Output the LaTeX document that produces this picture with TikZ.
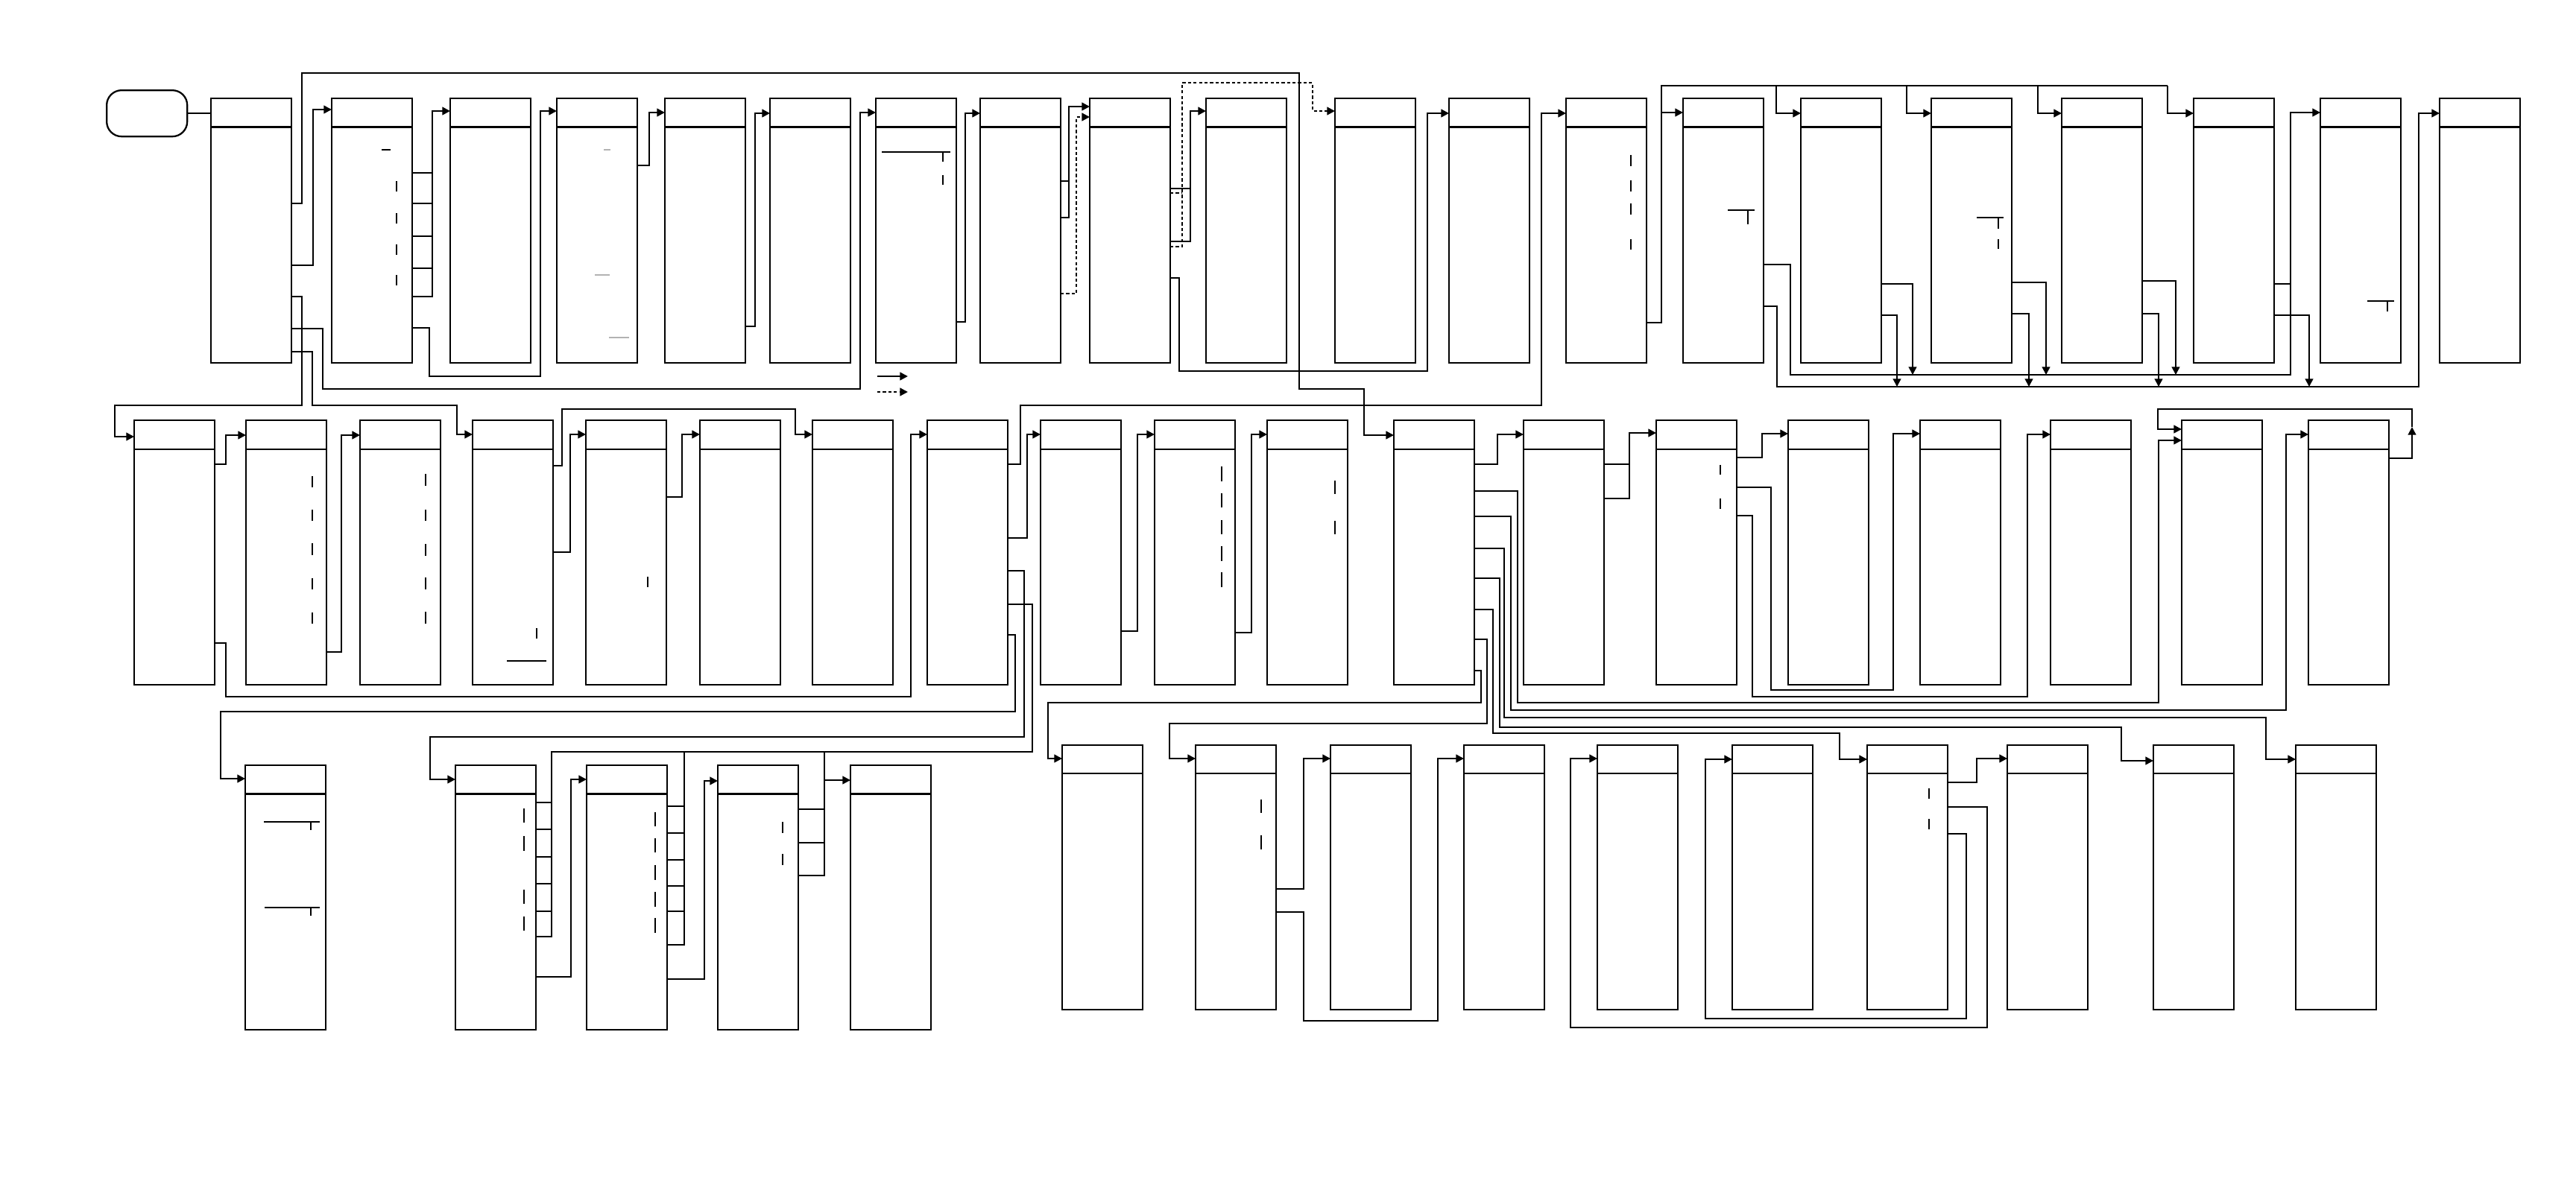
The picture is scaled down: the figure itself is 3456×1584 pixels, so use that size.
\documentclass[tikz,border=0pt]{standalone}
\usetikzlibrary{arrows.meta}
\begin{document}
\begin{tikzpicture}
  [x=0.01cm,y=-0.01cm,line width=0.65pt,
   box/.style={draw,rectangle,anchor=north west,inner sep=0pt,outer sep=0pt,minimum width=1.08cm,minimum height=3.55cm},
   flow/.style={-{Triangle[length=3pt,width=3pt]}},
   dotline/.style={dash pattern=on 1.2pt off 0.9pt},
   dots/.style={flow,dotline},
   tick/.style={line width=0.45pt}]
  \useasboundingbox (0,0) rectangle (3456,1584);

  \node[draw,rounded corners=0.2cm,anchor=north west,minimum width=1.08cm,minimum height=0.62cm] (s0) at (142,120) {};
  \foreach \id/\x in {a1/283,a2/445,a3/604,a4/747,a5/892,a6/1033,a7/1175,a8/1315,a9/1462,a10/1618,
                      a11/1791,a12/1944,a13/2101,a14/2258,a15/2416,a16/2591,a17/2766,a18/2943,a19/3113,a20/3273} {
    \node[box] (\id) at (\x,132) {};
    \draw ([yshift=-.385cm]\id.north west) -- ([yshift=-.385cm]\id.north east);
  }
  \foreach \id/\x in {b1/180,b2/330,b3/483,b4/634,b5/786,b6/939,b7/1090,b8/1244,b9/1396,b10/1549,
                      b11/1700,b12/1870,b13/2044,b14/2222,b15/2399,b16/2576,b17/2751,b18/2927,b19/3097} {
    \node[box] (\id) at (\x,564) {};
    \draw ([yshift=-.39cm]\id.north west) -- ([yshift=-.39cm]\id.north east);
  }
  \foreach \id/\x in {c1/329,c2/611,c3/787,c4/963,c5/1141} {
    \node[box] (\id) at (\x,1027) {};
    \draw ([yshift=-.385cm]\id.north west) -- ([yshift=-.385cm]\id.north east);
  }
  \foreach \id/\x in {d1/1425,d2/1604,d3/1785,d4/1964,d5/2143,d6/2324,d7/2505,d8/2693,d9/2889,d10/3080} {
    \node[box] (\id) at (\x,1000) {};
    \draw ([yshift=-.38cm]\id.north west) -- ([yshift=-.38cm]\id.north east);
  }

  % first row
  \draw (s0.east) -- (a1.west|-s0.east);
  \draw[flow] (a1.east|-0,273) -| (405,98) -| (1743,522) -| (1830,584) -- (b12.west|-0,584);
  \draw[flow] (a1.east|-0,356) -| (420,147) -- (a2.west|-0,147);
  \draw[flow] (a1.east|-0,398) -| (405,544) -| (154,586) -- (b1.west|-0,586);
  \draw[flow] (a1.east|-0,441) -| (433,522) -| (1154,151) -- (a7.west|-0,151);
  \draw[flow] (a1.east|-0,472) -| (419,544) -| (613,583) -- (b4.west|-0,583);
  \foreach \y in {232,273,317,360}
    \draw (a2.east|-0,\y) -- (580,\y);
  \draw[flow] (a2.east|-0,398) -| (580,149) -- (a3.west|-0,149);
  \draw[flow] (a2.east|-0,440) -| (576,505) -| (725,149) -- (a4.west|-0,149);
  \draw[flow] (a4.east|-0,222) -| (871,151) -- (a5.west|-0,151);
  \draw[flow] (a5.east|-0,438) -| (1013,152) -- (a6.west|-0,152);
  \draw[flow] (a7.east|-0,432) -| (1295,152) -- (a8.west|-0,152);
  \draw (a8.east|-0,243) -- (1434,243);
  \draw[flow] (a8.east|-0,292) -| (1434,143) -- (a9.west|-0,143);
  \draw[dots] (a8.east|-0,394) -| (1444,157) -- (a9.west|-0,157);
  \draw (a9.east|-0,253) -- (1597,253);
  \draw[flow] (a9.east|-0,324) -| (1597,149) -- (a10.west|-0,149);
  \draw[dotline] (a9.east|-0,259) -- (1586,259);
  \draw[dots] (a9.east|-0,331) -| (1586,111) -| (1761,149) -- (a11.west|-0,149);
  \draw[flow] (a9.east|-0,373) -| (1582,498) -| (1915,152) -- (a12.west|-0,152);
  \draw[flow] (b8.east|-0,623) -| (1369,544) -| (2068,152) -- (a13.west|-0,152);
  \draw[flow] (a13.east|-0,433) -| (2229,151) -- (a14.west|-0,151);
  \draw (2229,151) |- (2908,115);
  \foreach \x/\id in {2383/a15,2558/a16,2734/a17,2908/a18}
    \draw[flow] (\x,115) |- (\id.west|-0,152);
  \draw[flow] (a14.east|-0,355) -| (2402,503) -| (3073,151) -- (a19.west|-0,151);
  \draw[flow] (a14.east|-0,411) -| (2384,519) -| (3245,152) -- (a20.west|-0,152);
  \foreach \id/\ya/\xa/\yb/\xb in {a15/381/2566/423/2545,a16/379/2745/421/2722,a17/377/2919/421/2896} {
    \draw[flow] (\id.east|-0,\ya) -| (\xa,503);
    \draw[flow] (\id.east|-0,\yb) -| (\xb,519);
  }
  \draw (a18.east|-0,381) -- (3073,381);
  \draw[flow] (a18.east|-0,423) -| (3098,519);

  % second row
  \draw[flow] (b1.east|-0,623) -| (303,584) -- (b2.west|-0,584);
  \draw[flow] (b1.east|-0,863) -| (303,935) -| (1222,583) -- (b8.west|-0,583);
  \draw[flow] (b2.east|-0,875) -| (458,584) -- (b3.west|-0,584);
  \draw[flow] (b4.east|-0,625) -| (754,549) -| (1067,583) -- (b7.west|-0,583);
  \draw[flow] (b4.east|-0,741) -| (765,583) -- (b5.west|-0,583);
  \draw[flow] (b5.east|-0,667) -| (915,583) -- (b6.west|-0,583);
  \draw[flow] (b8.east|-0,722) -| (1378,583) -- (b9.west|-0,583);
  \draw[flow] (b8.east|-0,766) -| (1374,989) -| (577,1046) -- (c2.west|-0,1046);
  \draw (b8.east|-0,811) -| (1385,1009) -| (740,1257) -- (c2.east|-0,1257);
  \draw[flow] (b8.east|-0,852) -| (1362,955) -| (296,1045) -- (c1.west|-0,1045);
  \draw[flow] (b9.east|-0,847) -| (1526,583) -- (b10.west|-0,583);
  \draw[flow] (b10.east|-0,849) -| (1679,583) -- (b11.west|-0,583);
  \draw[flow] (b12.east|-0,623) -| (2009,583) -- (b13.west|-0,583);
  \draw[flow] (b12.east|-0,659) -| (2036,943) -| (2896,591) -- (b18.west|-0,591);
  \draw[flow] (b12.east|-0,693) -| (2027,953) -| (3067,583) -- (b19.west|-0,583);
  \draw[flow] (b12.east|-0,736) -| (2018,963) -| (3040,1019) -- (d10.west|-0,1019);
  \draw[flow] (b12.east|-0,776) -| (2012,976) -| (2846,1021) -- (d9.west|-0,1021);
  \draw[flow] (b12.east|-0,818) -| (2003,984) -| (2468,1019) -- (d7.west|-0,1019);
  \draw[flow] (b12.east|-0,858) -| (1995,971) -| (1569,1018) -- (d2.west|-0,1018);
  \draw[flow] (b12.east|-0,900) -| (1987,943) -| (1406,1018) -- (d1.west|-0,1018);
  \draw (b13.east|-0,623) -- (2186,623);
  \draw[flow] (b13.east|-0,669) -| (2186,581) -- (b14.west|-0,581);
  \draw[flow] (b14.east|-0,614) -| (2364,582) -- (b15.west|-0,582);
  \draw[flow] (b14.east|-0,654) -| (2376,926) -| (2540,582) -- (b16.west|-0,582);
  \draw[flow] (b14.east|-0,692) -| (2351,935) -| (2720,583) -- (b17.west|-0,583);
  \draw[flow] (b19.east|-0,615) -| (3236,573);
  \draw[flow] (3236,573) |- (2895,549) |- (b18.west|-0,576);

  % third row
  \foreach \y in {1077,1113,1150,1186,1223}
    \draw (c2.east|-0,\y) -- (740,\y);
  \draw (918,1009) |- (c3.east|-0,1268);
  \foreach \y in {1082,1118,1154,1189,1223}
    \draw (c3.east|-0,\y) -- (918,\y);
  \draw (1106,1009) |- (c4.east|-0,1175);
  \foreach \y in {1086,1131}
    \draw (c4.east|-0,\y) -- (1106,\y);
  \draw[flow] (1106,1047) -- (c5.west|-0,1047);
  \draw[flow] (c2.east|-0,1311) -| (766,1046) -- (c3.west|-0,1046);
  \draw[flow] (c3.east|-0,1314) -| (945,1048) -- (c4.west|-0,1048);
  \draw[flow] (d2.east|-0,1193) -| (1749,1018) -- (d3.west|-0,1018);
  \draw[flow] (d2.east|-0,1224) -| (1749,1370) -| (1929,1018) -- (d4.west|-0,1018);
  \draw[flow] (d7.east|-0,1050) -| (2652,1018) -- (d8.west|-0,1018);
  \draw[flow] (d7.east|-0,1083) -| (2666,1379) -| (2107,1018) -- (d5.west|-0,1018);
  \draw[flow] (d7.east|-0,1119) -| (2638,1367) -| (2288,1019) -- (d6.west|-0,1019);

  \coordinate (k1) at (1177,505);
  \coordinate (k2) at (1218,505);
  \coordinate (k3) at (1177,526);
  \coordinate (k4) at (1218,526);
  \draw[flow] (k1) -- (k2);
  \draw[dots] (k3) -- (k4);

  \foreach \x/\ya/\yb in {532/243/257,532/286/300,532/328/342,532/369/383,1265/204/217,1265/235/248,
      2188/208/223,2188/242/257,2188/273/288,2188/321/335,2345/282/301,2681/292/307,2681/321/334,3203/404/418,
      419/639/654,419/684/699,419/729/745,419/776/791,419/822/837,571/636/652,571/684/699,571/730/746,
      571/775/791,571/821/837,720/843/857,869/774/788,1639/626/646,1639/662/681,1639/698/717,1639/733/753,
      1639/768/788,1791/645/663,1791/699/717,2308/624/637,2308/669/683,417/1103/1114,417/1218/1229,
      703/1085/1104,703/1122/1142,703/1194/1213,703/1230/1249,879/1090/1109,879/1125/1144,879/1161/1181,
      879/1197/1217,879/1232/1252,1050/1103/1118,1050/1146/1161,1692/1073/1091,1692/1121/1140,
      2588/1058/1072,2588/1099/1113}
    \draw[tick] (\x,\ya) -- (\x,\yb);
  \foreach \xa/\xb/\y in {512/524/201,1183/1275/204,2318/2354/282,2652/2688/292,3176/3212/404,
      680/733/887,354/429/1103,355/429/1218}
    \draw[tick] (\xa,\y) -- (\xb,\y);
  \foreach \xa/\xb/\y in {810/819/201,798/818/369,817/844/453}
    \draw[tick,gray!60] (\xa,\y) -- (\xb,\y);
\end{tikzpicture}
\end{document}
